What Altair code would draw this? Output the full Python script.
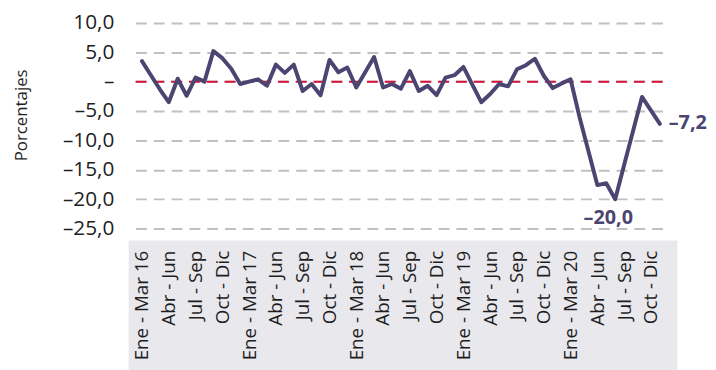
import altair as alt
import pandas as pd

# ---- data ----
quarter_labels = [
    "Ene - Mar 16", "Abr - Jun", "Jul - Sep", "Oct - Dic",
    "Ene - Mar 17", "Abr - Jun", "Jul - Sep", "Oct - Dic",
    "Ene - Mar 18", "Abr - Jun", "Jul - Sep", "Oct - Dic",
    "Ene - Mar 19", "Abr - Jun", "Jul - Sep", "Oct - Dic",
    "Ene - Mar 20", "Abr - Jun", "Jul - Sep", "Oct - Dic",
]
values = [
    3.5, 1.1, -1.3, -3.5, 0.5, -2.4, 0.7, 0.0, 5.2, 4.0, 2.2, -0.4,
    0.0, 0.4, -0.7, 2.9, 1.5, 2.9, -1.6, -0.4, -2.3, 3.7, 1.6, 2.4,
    -1.0, 1.6, 4.2, -1.0, -0.4, -1.2, 1.8, -1.6, -0.7, -2.3, 0.7, 1.1,
    2.5, -0.5, -3.5, -2.1, -0.4, -0.8, 2.1, 2.8, 3.9, 1.0, -1.1, -0.3,
    0.4, -6.0, -11.8, -17.6, -17.3, -20.0, -14.2, -8.4, -2.6, -4.9, -7.2,
]
y_ticks = [10, 5, 0, -5, -10, -15, -20, -25]
annot_index = [53, 58]
annot_text = ["–20,0", "–7,2"]

df = pd.DataFrame({"i": list(range(len(values))), "v": values})
df_zero = pd.DataFrame({"i": [0], "v": [0.0]})
df_min = pd.DataFrame({"i": [annot_index[0]], "v": [values[annot_index[0]]], "t": [annot_text[0]]})
df_last = pd.DataFrame({"i": [annot_index[1]], "v": [values[annot_index[1]]], "t": [annot_text[1]]})

W, H = 533, 208
FONT = "Open Sans"
LINE = "#4b4572"
RED = "#d3143c"
GRID = "#c0c0c0"
TXT = "#1e1e1e"
BAND = "#e9e8ed"

label_arr = "[" + ",".join("'" + s + "'" for s in quarter_labels) + "]"

x_enc = alt.X(
    "i:Q",
    scale=alt.Scale(domain=[-0.72, 58.3], nice=False, zero=False),
    axis=alt.Axis(
        values=list(range(0, 3 * len(quarter_labels), 3)),
        labelExpr=label_arr + "[floor(datum.value / 3)]",
        labelAngle=-90,
        labelAlign="right",
        labelBaseline="middle",
        labelPadding=22,
        labelFont=FONT,
        labelFontSize=19,
        labelColor=TXT,
        labelOverlap=False,
        labelFlush=False,
        labelBound=False,
        grid=False,
        ticks=False,
        domain=False,
        title=None,
        zindex=2,
    ),
)
y_enc = alt.Y(
    "v:Q",
    scale=alt.Scale(domain=[-25, 10], nice=False, zero=False),
    axis=alt.Axis(
        values=y_ticks,
        labelExpr="datum.value == 0 ? '–' : (datum.value < 0 ? '–' : '') + replace(format(abs(datum.value), '.1f'), '.', ',')",
        labelFont=FONT,
        labelFontSize=21,
        labelColor=TXT,
        labelPadding=22,
        labelOverlap=False,
        labelFlush=False,
        labelBound=False,
        grid=True,
        gridDash=[11, 7],
        gridColor=GRID,
        gridWidth=2,
        ticks=False,
        domain=False,
        title="Porcentajes",
        titleFont=FONT,
        titleFontSize=17,
        titleFontWeight="normal",
        titleColor=TXT,
        titleAngle=270,
        titleBaseline="bottom",
        titleAlign="center",
        titleX=-106,
        titleY=93,
    ),
)

band = alt.Chart(pd.DataFrame({"a": [0]})).mark_rect(color=BAND, clip=False).encode(
    x=alt.value(-7), x2=alt.value(548), y=alt.value(220), y2=alt.value(360)
)

line = alt.Chart(df).mark_line(
    color=LINE, strokeWidth=4, strokeJoin="round", strokeCap="round"
).encode(x=x_enc, y=y_enc)

zero = alt.Chart(df_zero).mark_rule(
    color=RED, strokeDash=[11, 7], strokeWidth=2
).encode(y=y_enc)

t_min = alt.Chart(df_min).mark_text(
    font=FONT, fontSize=20, fontWeight="bold", color=LINE,
    align="center", baseline="middle", dx=-7, dy=19,
).encode(x=x_enc, y=y_enc, text="t:N")

t_last = alt.Chart(df_last).mark_text(
    font=FONT, fontSize=20, fontWeight="bold", color=LINE,
    align="left", baseline="middle", dx=9, dy=-1,
).encode(x=x_enc, y=y_enc, text="t:N")

chart = alt.layer(band, zero, line, t_min, t_last).properties(
    width=W,
    height=H,
    autosize=alt.AutoSizeParams(type="none"),
    padding={"left": 129, "top": 13, "right": 46, "bottom": 141},
    background="white",
).configure_view(stroke=None)

chart.save("out.html", embed_options={"renderer": "svg", "actions": False})
